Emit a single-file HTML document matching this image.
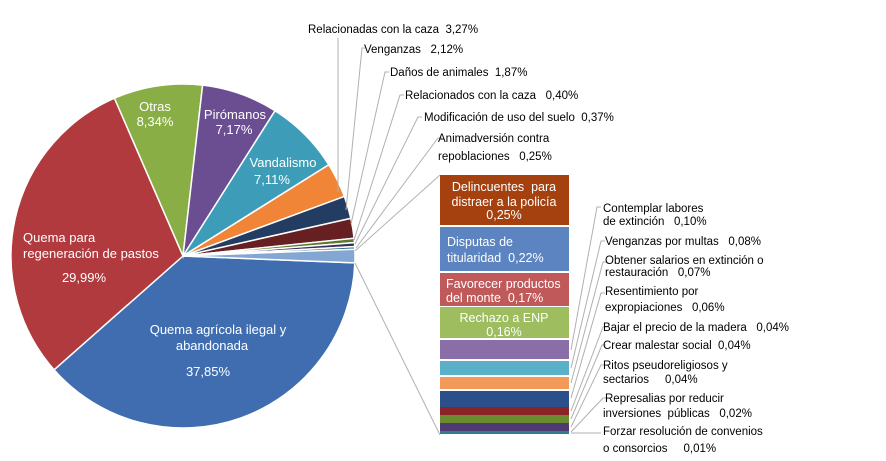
<!DOCTYPE html>
<html><head><meta charset="utf-8"><style>
body{margin:0;background:#fff;width:886px;height:456px;overflow:hidden}
svg{font-family:"Liberation Sans",sans-serif}
text{white-space:pre}
.w{fill:#fff;font-size:12.5px}
.p{font-size:13px}
.b{fill:#000;font-size:11.5px}
</style></head><body>
<svg id="s" width="886" height="456" viewBox="0 0 886 456">
<g id="pie"></g>
<g stroke="#b0b0b0" stroke-width="1" fill="none">
<line x1="355" y1="251" x2="440" y2="175"/>
<line x1="355" y1="263" x2="440" y2="435"/>
<polyline points="338,38 338,192"/>
<polyline points="366,48 362,48 346,210"/>
<polyline points="389,72 385,72 351,224"/>
<polyline points="404,95 400,95 354,240"/>
<polyline points="422,117 418,117 355,244"/>
<polyline points="442,138 438,138 356,248"/>
<polyline points="601,207 597,207 571,350"/>
<polyline points="605,241 601,241 571,368"/>
<polyline points="607,262 603,262 571,383"/>
<polyline points="605,293 601,293 571,398"/>
<polyline points="607,327 603,327 571,411"/>
<polyline points="606,345 602,345 571,419"/>
<polyline points="605,365 601,365 571,427"/>
<polyline points="607,398 603,398 571,432"/>
<polyline points="601,433 571,433"/>
</g>
<g>
<rect x="440" y="175" width="129" height="50" fill="#a5410e"/>
<rect x="440" y="227" width="129" height="44" fill="#5b84c0"/>
<rect x="440" y="273" width="129" height="33" fill="#c0595a"/>
<rect x="440" y="307" width="129" height="31" fill="#9dbd5f"/>
<rect x="440" y="340" width="129" height="19" fill="#8a6ea8"/>
<rect x="440" y="361" width="129" height="14" fill="#5ab0c8"/>
<rect x="440" y="377" width="129" height="12" fill="#f39a5a"/>
<rect x="440" y="391" width="129" height="16" fill="#2b5089"/>
<rect x="440" y="407" width="129" height="8" fill="#8b2426"/>
<rect x="440" y="415" width="129" height="8" fill="#6a8c30"/>
<rect x="440" y="423" width="129" height="8" fill="#4f3a74"/>
<rect x="440" y="431" width="129" height="3" fill="#2f7d90"/>
</g>
<g class="w" text-anchor="middle">
<text x="504" y="191">Delincuentes  para</text>
<text x="504" y="206">distraer a la policía</text>
<text x="504" y="219">0,25%</text>
<text x="447" y="246" text-anchor="start">Disputas de</text>
<text x="447" y="262" text-anchor="start">titularidad  0,22%</text>
<text x="446" y="288" text-anchor="start">Favorecer productos</text>
<text x="446" y="302" text-anchor="start">del monte  0,17%</text>
<text x="504" y="322">Rechazo a ENP</text>
<text x="504" y="336">0,16%</text>
<g class="p">
<text x="155" y="111">Otras</text>
<text x="155" y="126">8,34%</text>
<text x="235" y="119">Pirómanos</text>
<text x="234" y="134">7,17%</text>
<text x="283" y="167">Vandalismo</text>
<text x="272" y="184">7,11%</text>
<text x="23" y="242" text-anchor="start">Quema para</text>
<text x="23" y="258" text-anchor="start">regeneración de pastos</text>
<text x="84" y="282">29,99%</text>
<text x="218" y="334">Quema agrícola ilegal y</text>
<text x="212" y="350">abandonada</text>
<text x="208" y="376">37,85%</text>
</g>
</g>
<g class="b">
<text x="308" y="33">Relacionadas con la caza  3,27%</text>
<text x="364" y="53">Venganzas   2,12%</text>
<text x="390" y="76">Daños de animales  1,87%</text>
<text x="405" y="99">Relacionados con la caza   0,40%</text>
<text x="424" y="121">Modificación de uso del suelo  0,37%</text>
<text x="438" y="142">Animadversión contra</text>
<text x="438" y="160">repoblaciones   0,25%</text>
<text x="603" y="212">Contemplar labores</text>
<text x="603" y="225">de extinción   0,10%</text>
<text x="605" y="245">Venganzas por multas   0,08%</text>
<text x="605" y="264">Obtener salarios en extinción o</text>
<text x="605" y="276">restauración   0,07%</text>
<text x="605" y="295">Resentimiento por</text>
<text x="605" y="311">expropiaciones   0,06%</text>
<text x="603" y="331">Bajar el precio de la madera   0,04%</text>
<text x="603" y="349">Crear malestar social  0,04%</text>
<text x="603" y="369">Ritos pseudoreligiosos y</text>
<text x="603" y="383">sectarios     0,04%</text>
<text x="605" y="402">Represalias por reducir</text>
<text x="603" y="417">inversiones  públicas   0,02%</text>
<text x="603" y="435">Forzar resolución de convenios</text>
<text x="603" y="452">o consorcios     0,01%</text>
</g>
</svg>
<script>
var cx=183,cy=256,r=172,a=2.3;
var d=[[37.85,"#3f6db0"],[29.99,"#b03a3d"],[8.34,"#8aae46"],[7.17,"#6b4e91"],[7.11,"#3d9db8"],[3.27,"#f08538"],[2.12,"#233c62"],[1.87,"#662022"],[0.40,"#5a7a2a"],[0.37,"#3e2e5c"],[0.25,"#2a6a7a"],[1.26,"#84a6d2"]];
var tot=0;d.forEach(function(x){tot+=x[0]});
var g=document.getElementById("pie"),h="";
d.forEach(function(x){var s=a,e=a+x[0]/tot*360;a=e;
var p=function(t){t=t*Math.PI/180;return (cx+r*Math.cos(t)).toFixed(2)+","+(cy+r*Math.sin(t)).toFixed(2)};
h+='<path d="M'+cx+','+cy+' L'+p(s)+' A'+r+','+r+' 0 '+((e-s)>180?1:0)+',1 '+p(e)+' Z" fill="'+x[1]+'" stroke="#fff" stroke-width="1.5"/>';});
g.innerHTML=h;
</script>
</body></html>
